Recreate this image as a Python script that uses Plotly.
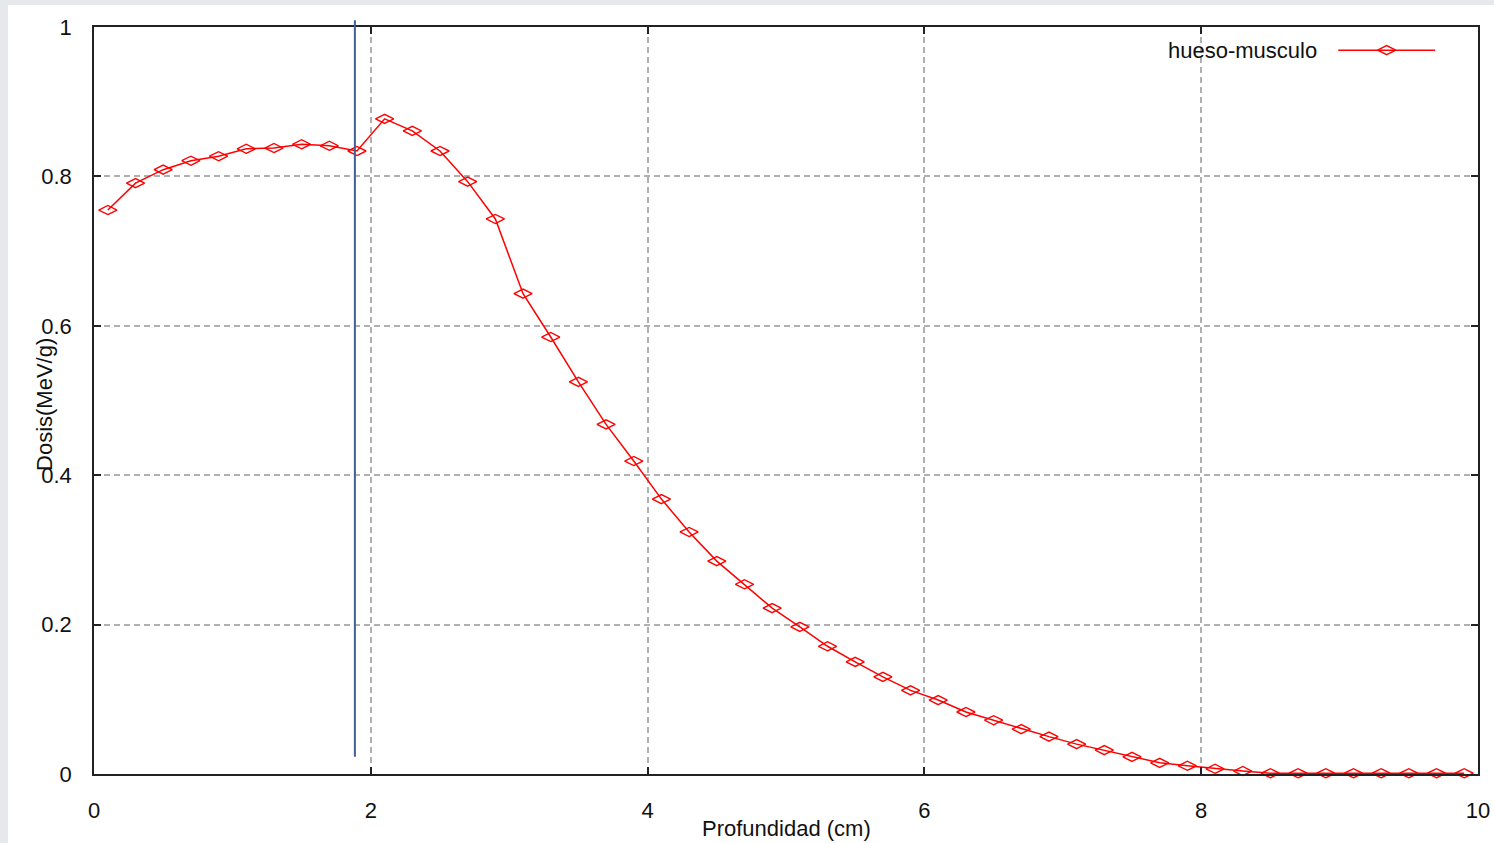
import plotly.graph_objects as go

# Data
depth_cm = [0.1, 0.3, 0.5, 0.7, 0.9, 1.1, 1.3, 1.5, 1.7, 1.9,
            2.1, 2.3, 2.5, 2.7, 2.9, 3.1, 3.3, 3.5, 3.7, 3.9,
            4.1, 4.3, 4.5, 4.7, 4.9, 5.1, 5.3, 5.5, 5.7, 5.9,
            6.1, 6.3, 6.5, 6.7, 6.9, 7.1, 7.3, 7.5, 7.7, 7.9,
            8.1, 8.3, 8.5, 8.7, 8.9, 9.1, 9.3, 9.5, 9.7, 9.9]
dose = [0.755, 0.791, 0.809, 0.821, 0.827, 0.837, 0.838, 0.843, 0.841, 0.834,
        0.877, 0.861, 0.834, 0.793, 0.743, 0.643, 0.585, 0.525, 0.468, 0.419,
        0.368, 0.324, 0.285, 0.254, 0.222, 0.197, 0.171, 0.150, 0.130, 0.112,
        0.099, 0.083, 0.072, 0.060, 0.050, 0.040, 0.032, 0.023, 0.015, 0.011,
        0.007, 0.004, 0.001, 0.001, 0.001, 0.001, 0.001, 0.001, 0.001, 0.001]
series_name = "hueso-musculo"
interface_x = 1.885
interface_y = [0.023, 1.009]
x_ticks = [0, 2, 4, 6, 8, 10]
y_ticks = [0, 0.2, 0.4, 0.6, 0.8, 1]
y_tick_labels = ["0", "0.2", "0.4", "0.6", "0.8", "1"]

FONT = "Liberation Sans, Arial, sans-serif"
RED = "#ff0000"
TXT = "#111111"

fig = go.Figure()

fig.add_trace(go.Scatter(
    x=depth_cm, y=dose, mode="lines+markers", name=series_name,
    line=dict(color=RED, width=1.5),
    marker=dict(symbol="diamond-wide-open", size=13, color=RED, line=dict(width=1.4, color=RED)),
    showlegend=False, cliponaxis=False,
))

# legend sample on overlay axes (0..1)
fig.add_trace(go.Scatter(
    x=[0.899, 0.969], y=[0.969, 0.969], mode="lines", xaxis="x2", yaxis="y2",
    line=dict(color=RED, width=1.5), showlegend=False,
))
fig.add_trace(go.Scatter(
    x=[0.934], y=[0.969], mode="markers", xaxis="x2", yaxis="y2",
    marker=dict(symbol="diamond-wide-open", size=13, color=RED, line=dict(width=1.4, color=RED)),
    showlegend=False,
))

axis_common = dict(
    showline=True, linecolor="#222222", linewidth=1.5, mirror="ticks",
    ticks="inside", ticklen=7, tickwidth=1.5, tickcolor="#222222",
    showgrid=True, gridcolor="#b0b0b0", gridwidth=1.8, griddash="6px,4px",
    zeroline=False, automargin=False,
    tickfont=dict(family=FONT, size=22, color=TXT),
)

fig.update_layout(
    width=1494, height=843,
    margin=dict(l=94, r=16, t=27, b=69, autoexpand=False),
    paper_bgcolor="white", plot_bgcolor="white",
    xaxis=dict(range=[0, 10], tickvals=x_ticks, ticktext=[str(v) for v in x_ticks],
               ticklabelstandoff=16, **axis_common),
    yaxis=dict(range=[0, 1], tickvals=y_ticks, ticktext=y_tick_labels,
               ticklabelstandoff=16, **axis_common),
    xaxis2=dict(range=[0, 1], overlaying="x", visible=False, fixedrange=True),
    yaxis2=dict(range=[0, 1], overlaying="y", visible=False, fixedrange=True),
    annotations=[
        dict(text="Profundidad (cm)", x=0.5, y=-0.0723, xref="paper", yref="paper",
             xanchor="center", yanchor="middle", showarrow=False,
             font=dict(family=FONT, size=22, color=TXT)),
        dict(text="Dosis(MeV/g)", x=-0.0354, y=0.494, xref="paper", yref="paper",
             xanchor="center", yanchor="middle", textangle=-90, showarrow=False,
             font=dict(family=FONT, size=22, color=TXT)),
        dict(text=series_name, x=0.885, y=0.969, xref="paper", yref="paper",
             xanchor="right", yanchor="middle", showarrow=False,
             font=dict(family=FONT, size=22, color=TXT)),
    ],
    shapes=[
        dict(type="rect", xref="paper", yref="paper", x0=-0.07, x1=-0.0621, y0=-0.1, y1=1.04,
             fillcolor="#e6e9ec", line=dict(width=0), layer="below"),
        dict(type="rect", xref="paper", yref="paper", x0=-0.07, x1=1.02, y0=1.0295, y1=1.04,
             fillcolor="#e6e9ec", line=dict(width=0), layer="below"),
        # interface line (x in data units, y in paper units so it can overshoot the frame)
        dict(type="line", xref="x", yref="paper", x0=interface_x, x1=interface_x,
             y0=interface_y[0], y1=interface_y[1], line=dict(color="#3f5f95", width=2),
             layer="above"),
    ],
)

fig.write_html("out.html", config={"displayModeBar": False},
               post_script="document.body.style.margin='0';document.body.style.overflow='hidden';")
